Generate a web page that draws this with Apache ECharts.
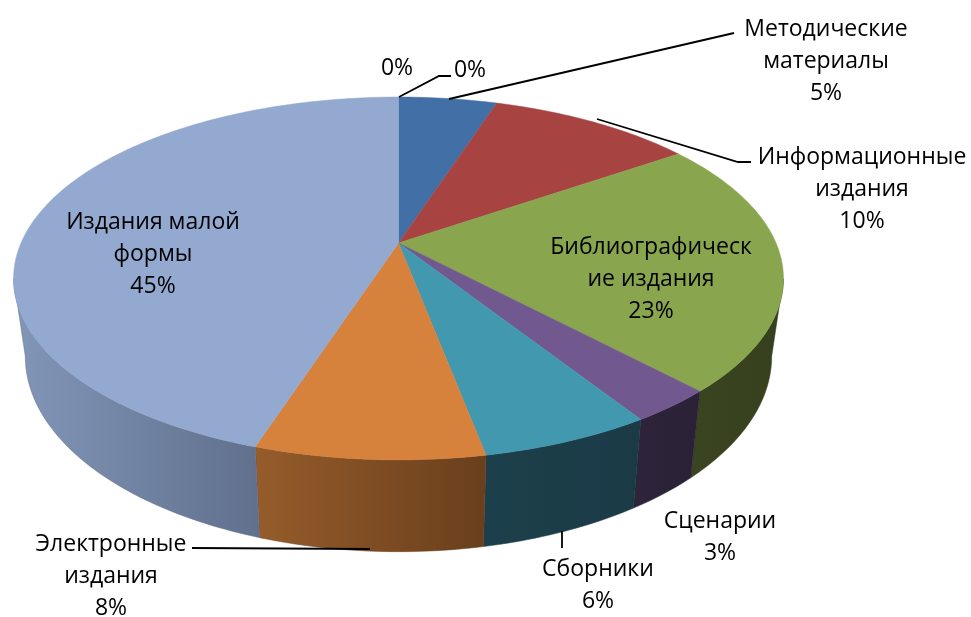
<!DOCTYPE html>
<html>
<head>
<meta charset="utf-8">
<title>pie</title>
<style>
  html, body { margin: 0; padding: 0; background: #fff; }
  #chart { width: 971px; height: 617px; }
</style>
<script src="https://cdn.jsdelivr.net/npm/echarts@6/dist/echarts.min.js"></script>
</head>
<body>
<div id="chart"></div>
<script>
  // данные
  const categories = ['', '', 'Методические\nматериалы', 'Информационные\nиздания', 'Библиографическ\nие издания', 'Сценарии', 'Сборники', 'Электронные\nиздания', 'Издания малой\nформы']
  const values = [0, 0, 5, 10.4, 22.6, 3, 6, 8, 45]

  // оформление
  const topColors = ['#4572a7', '#4572a7', '#4270a6', '#a74442', '#89a54e', '#71588f', '#4198af', '#d6813c', '#93a9cf']
  const wallFrom = ['#2d4a6d', '#2d4a6d', '#2d4a6d', '#6d2c2b', '#3a4420', '#2e243b', '#1c404b', '#965c2b', '#8296b8']
  const wallTo = ['#2d4a6d', '#2d4a6d', '#2d4a6d', '#6d2c2b', '#36401e', '#2b2136', '#1a3a46', '#693f1c', '#60708d']
  const labelPos = [[397, 68], [470, 70], [826, 61], [862, 189], [651, 279], [720, 537], [598, 585], [111, 576], [153, 254]]
  const leaders = [
    [[399, 97], [439, 76], [451, 76]],
    [[449, 99], [734, 33]],
    [[597, 119], [738, 162], [751, 162]],
    [[192, 548], [370, 549]],
    [[562, 531], [562, 548]]
  ]
  const leaderColor = '#000'
  const fontFamily = '"Open Sans", "Noto Sans", sans-serif'

  // проекция круга диаграммы: верхняя и нижняя грань
  const topFace = { cx: 398.5, cy: 243, rx: 377.5, ry: 174.5, k: 0.1955 }
  const bottomFace = { cx: 398.5, cy: 318, rx: 366, ry: 188, k: 0.1955 }
  const wallStart = 101.3
  const wallEnd = 258.7

  const total = values.reduce((a, b) => a + b, 0)
  const starts = []
  values.reduce((acc, v, i) => { starts[i] = acc; return acc + v }, 0)

  function project(face, deg) {
    let a = deg * Math.PI / 180
    let u = Math.sin(a)
    let v = -Math.cos(a)
    let w = 1 - face.k * v
    return [face.cx + face.rx * u / w, face.cy + face.ry * v / w]
  }

  function arc(face, from, to) {
    let pts = []
    let n = Math.max(1, Math.ceil(Math.abs(to - from)))
    for (let i = 0; i <= n; i++) {
      pts.push(project(face, from + (to - from) * i / n))
    }
    return pts
  }

  function angles(i, val) {
    return [starts[i] / total * 360, (starts[i] + val) / total * 360]
  }

  function renderWall(params, api) {
    let i = params.dataIndex
    let [a0, a1] = angles(i, api.value(0))
    let from = Math.max(a0, wallStart)
    let to = Math.min(a1, wallEnd)
    if (to <= from) return null
    let points = arc(topFace, from, to).concat(arc(bottomFace, to, from))
    return {
      type: 'polygon',
      shape: { points: points },
      style: {
        fill: new echarts.graphic.LinearGradient(0, 0, 1, 0, [
          { offset: 0, color: wallFrom[i] },
          { offset: 1, color: wallTo[i] }
        ]),
        stroke: wallTo[i],
        lineWidth: 0.5
      }
    }
  }

  function renderTop(params, api) {
    let i = params.dataIndex
    let val = api.value(0)
    if (!val) return null
    let [a0, a1] = angles(i, val)
    let points = [[topFace.cx, topFace.cy]].concat(arc(topFace, a0, a1))
    return {
      type: 'polygon',
      shape: { points: points },
      style: { fill: topColors[i], stroke: topColors[i], lineWidth: 0.5 }
    }
  }

  function renderLabel(params, api) {
    let i = params.dataIndex
    let name = categories[i]
    let pct = Math.round(api.value(0)) + '%'
    return {
      type: 'text',
      style: {
        x: labelPos[i][0],
        y: labelPos[i][1],
        text: name ? name + '\n' + pct : pct,
        fill: '#000',
        font: '23px ' + fontFamily,
        lineHeight: 32,
        align: 'center',
        verticalAlign: 'middle'
      }
    }
  }

  const chart = echarts.init(document.getElementById('chart'), null, { renderer: 'canvas' })
  chart.setOption({
    backgroundColor: '#fff',
    animation: false,
    series: [
      { type: 'custom', coordinateSystem: 'none', silent: true, z: 1, data: values, renderItem: renderWall },
      { type: 'custom', coordinateSystem: 'none', silent: true, z: 2, data: values, renderItem: renderTop },
      {
        type: 'custom',
        coordinateSystem: 'none',
        silent: true,
        z: 3,
        data: leaders,
        renderItem: (params) => ({
          type: 'polyline',
          shape: { points: leaders[params.dataIndex] },
          style: { fill: 'none', stroke: leaderColor, lineWidth: 1.8 }
        })
      },
      { type: 'custom', coordinateSystem: 'none', silent: true, z: 4, data: values, renderItem: renderLabel }
    ]
  })
</script>
</body>
</html>
